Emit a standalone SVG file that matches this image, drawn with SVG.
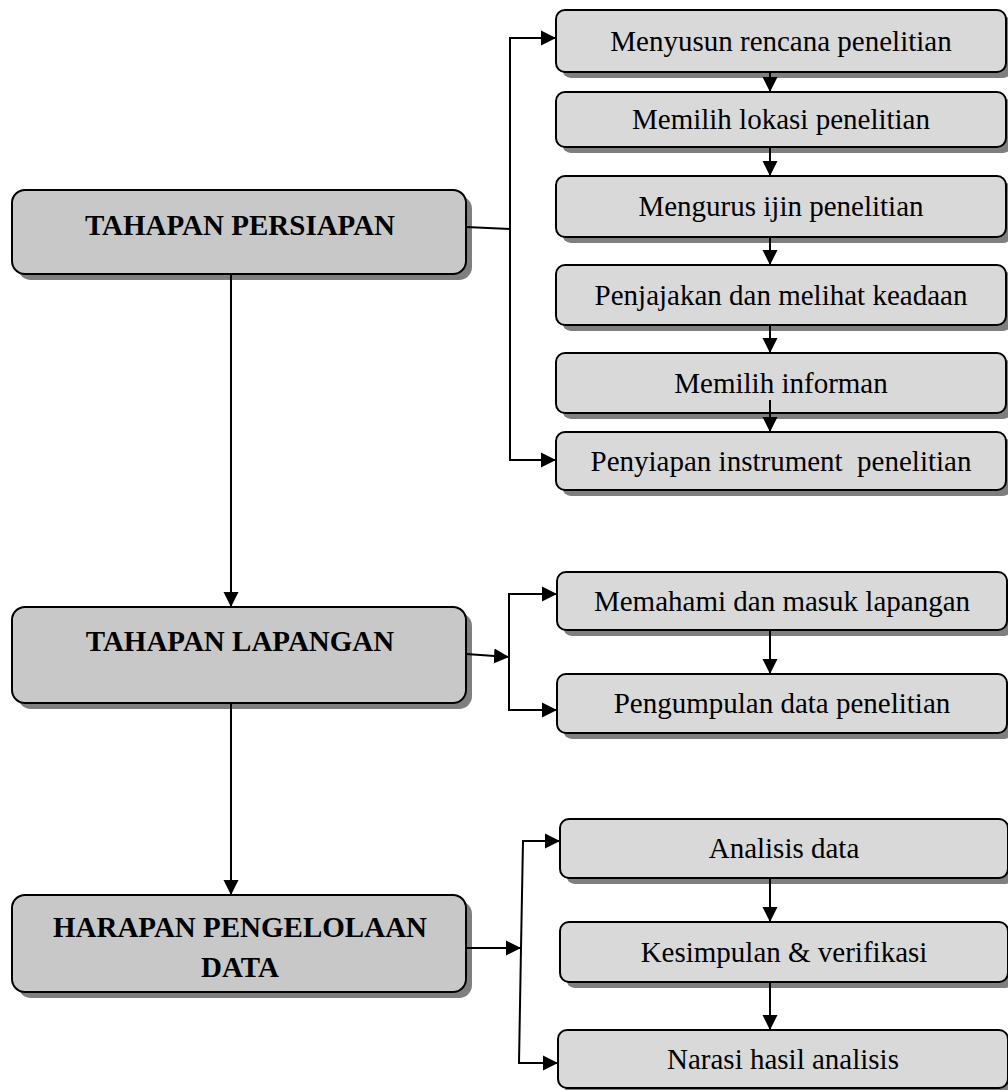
<svg xmlns="http://www.w3.org/2000/svg" width="1008" height="1090" viewBox="0 0 1008 1090">
  <style>
    .shadow { fill: #7f7f7f; }
    .stage { fill: #c8c8c8; stroke: #000; stroke-width: 2; }
    .step { fill: #d9d9d9; stroke: #000; stroke-width: 2; }
    .stage-text { font-family: "Liberation Serif", "Times New Roman", serif; font-size: 29px; font-weight: bold; text-anchor: middle; fill: #000; }
    .step-text { font-family: "Liberation Serif", "Times New Roman", serif; font-size: 29px; text-anchor: middle; fill: #000; white-space: pre; }
    .link { fill: none; stroke: #000; stroke-width: 2; }
    .arrow { marker-end: url(#head); }
  </style>
  <defs>
    <marker id="head" markerUnits="userSpaceOnUse" markerWidth="16" markerHeight="16" viewBox="0 0 16 16" refX="15" refY="8" orient="auto">
      <path d="M0,0.5 L15,8 L0,15.5 Z" fill="#000"/>
    </marker>
  </defs>

  <rect width="1008" height="1090" fill="#fff"/>

  <!-- stages -->
  <g id="stage-persiapan">
    <rect class="shadow" x="18" y="196" width="454" height="84" rx="13"/>
    <rect class="stage" x="12" y="190" width="454" height="84" rx="13"/>
    <text class="stage-text" x="240" y="235">TAHAPAN PERSIAPAN</text>
  </g>
  <g id="stage-lapangan">
    <rect class="shadow" x="18" y="613" width="454" height="96" rx="13"/>
    <rect class="stage" x="12" y="607" width="454" height="96" rx="13"/>
    <text class="stage-text" x="240" y="651">TAHAPAN LAPANGAN</text>
  </g>
  <g id="stage-pengelolaan">
    <rect class="shadow" x="18" y="901" width="454" height="97" rx="13"/>
    <rect class="stage" x="12" y="895" width="454" height="97" rx="13"/>
    <text class="stage-text" x="240" y="937">HARAPAN PENGELOLAAN</text>
    <text class="stage-text" x="240" y="977">DATA</text>
  </g>

  <!-- preparation steps -->
  <g id="step-rencana">
    <rect class="shadow" x="562" y="16" width="450" height="62" rx="9"/>
    <rect class="step" x="556" y="10" width="450" height="62" rx="9"/>
    <text class="step-text" x="781" y="51">Menyusun rencana penelitian</text>
  </g>
  <g id="step-lokasi">
    <rect class="shadow" x="562" y="98" width="450" height="55" rx="9"/>
    <rect class="step" x="556" y="92" width="450" height="55" rx="9"/>
    <text class="step-text" x="781" y="129">Memilih lokasi penelitian</text>
  </g>
  <g id="step-ijin">
    <rect class="shadow" x="562" y="182" width="450" height="61" rx="9"/>
    <rect class="step" x="556" y="176" width="450" height="61" rx="9"/>
    <text class="step-text" x="781" y="216">Mengurus ijin penelitian</text>
  </g>
  <g id="step-penjajakan">
    <rect class="shadow" x="562" y="271" width="450" height="60" rx="9"/>
    <rect class="step" x="556" y="265" width="450" height="60" rx="9"/>
    <text class="step-text" x="781" y="305">Penjajakan dan melihat keadaan</text>
  </g>
  <g id="step-informan">
    <rect class="shadow" x="562" y="359" width="450" height="60" rx="9"/>
    <rect class="step" x="556" y="353" width="450" height="60" rx="9"/>
    <text class="step-text" x="781" y="393">Memilih informan</text>
  </g>
  <g id="step-instrument">
    <rect class="shadow" x="562" y="438" width="450" height="58" rx="9"/>
    <rect class="step" x="556" y="432" width="450" height="58" rx="9"/>
    <text class="step-text" x="781" y="471">Penyiapan instrument  penelitian</text>
  </g>

  <!-- field steps -->
  <g id="step-masuk">
    <rect class="shadow" x="563" y="578" width="450" height="58" rx="9"/>
    <rect class="step" x="557" y="572" width="450" height="58" rx="9"/>
    <text class="step-text" x="782" y="611">Memahami dan masuk lapangan</text>
  </g>
  <g id="step-pengumpulan">
    <rect class="shadow" x="563" y="680" width="450" height="59" rx="9"/>
    <rect class="step" x="557" y="674" width="450" height="59" rx="9"/>
    <text class="step-text" x="782" y="713">Pengumpulan data penelitian</text>
  </g>

  <!-- data processing steps -->
  <g id="step-analisis">
    <rect class="shadow" x="566" y="825" width="448" height="59" rx="9"/>
    <rect class="step" x="560" y="819" width="448" height="59" rx="9"/>
    <text class="step-text" x="784" y="858">Analisis data</text>
  </g>
  <g id="step-kesimpulan">
    <rect class="shadow" x="566" y="928" width="448" height="60" rx="9"/>
    <rect class="step" x="560" y="922" width="448" height="60" rx="9"/>
    <text class="step-text" x="784" y="962">Kesimpulan &amp; verifikasi</text>
  </g>
  <g id="step-narasi">
    <rect class="shadow" x="564" y="1036" width="450" height="58" rx="9"/>
    <rect class="step" x="558" y="1030" width="450" height="58" rx="9"/>
    <text class="step-text" x="783" y="1069">Narasi hasil analisis</text>
  </g>

  <!-- connectors, drawn over the boxes -->
  <g id="connectors">
    <!-- main flow between stages -->
    <path class="link arrow" d="M231,274 V607"/>
    <path class="link arrow" d="M231,703 V895"/>

    <!-- preparation stage -->
    <path class="link" d="M466,227 L510,229"/>
    <path class="link arrow" d="M510,229 V38 H556"/>
    <path class="link arrow" d="M510,229 V460 H556"/>
    <path class="link arrow" d="M770,72 V92"/>
    <path class="link arrow" d="M770,147 V176"/>
    <path class="link arrow" d="M770,237 V265"/>
    <path class="link arrow" d="M770,325 V353"/>
    <path class="link arrow" d="M770,400 V432"/>

    <!-- field stage -->
    <path class="link arrow" d="M466,654 L509,657"/>
    <path class="link arrow" d="M509,657 V594 H557"/>
    <path class="link arrow" d="M509,657 V710 H557"/>
    <path class="link arrow" d="M770,630 V674"/>

    <!-- data processing stage -->
    <path class="link arrow" d="M466,948 L521,948"/>
    <path class="link arrow" d="M521,948 L523,841 H560"/>
    <path class="link arrow" d="M521,948 L519,1063 H558"/>
    <path class="link arrow" d="M770,878 V922"/>
    <path class="link arrow" d="M770,982 V1030"/>
  </g>
</svg>
